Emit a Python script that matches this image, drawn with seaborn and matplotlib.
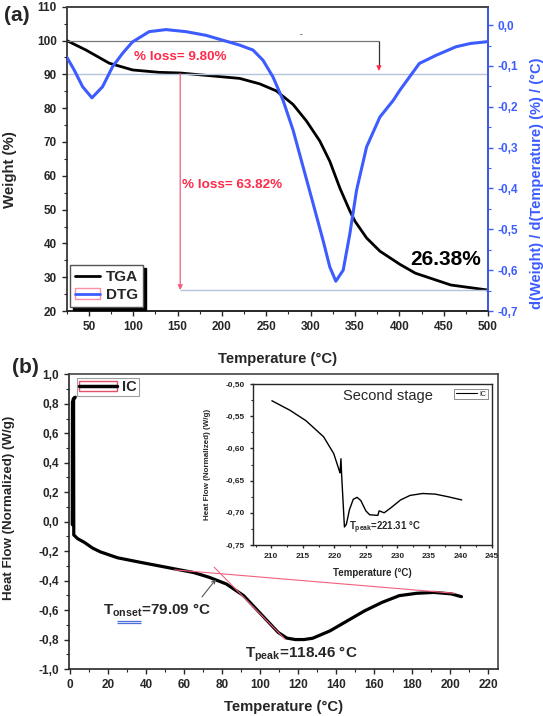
import matplotlib
matplotlib.use("Agg")
import matplotlib.pyplot as plt
import seaborn as sns
from matplotlib.lines import Line2D
from matplotlib.patches import Rectangle
from matplotlib.ticker import MultipleLocator, FuncFormatter

# ---- panel (a): TGA / DTG ----
tga_temp = [25, 46.7, 73, 99.3, 129, 153, 220, 242.5, 261.4, 280.2, 295.3, 310.3, 321.6,
            332.9, 344.2, 349.9, 363.1, 378.1, 400.7, 418, 458, 500]
tga_weight = [100, 97.2, 93.3, 91.3, 90.6, 90.4, 88.8, 87.2, 85.1, 81.1, 76.2, 70.3, 64.3,
              56.4, 49.6, 46.6, 41.6, 37.7, 33.8, 31.2, 27.7, 26.2]

dtg_temp = [25, 33.5, 43, 53.5, 65.4, 76.7, 88, 99.3, 118, 137, 159.5, 182, 220, 235,
            246.3, 257.6, 268.9, 280.2, 291.5, 302.8, 314, 321.6, 328.4, 336.7, 344.2,
            351.8, 363.1, 378.1, 393.2, 400.7, 422.5, 441.3, 463.9, 480, 497.3, 500]
dtg_value = [-0.078, -0.110, -0.151, -0.178, -0.151, -0.102, -0.069, -0.041, -0.016, -0.011,
             -0.016, -0.025, -0.049, -0.061, -0.086, -0.127, -0.184, -0.257, -0.347, -0.437,
             -0.527, -0.592, -0.627, -0.600, -0.511, -0.404, -0.298, -0.225, -0.184, -0.159,
             -0.094, -0.074, -0.053, -0.045, -0.041, -0.040]

start_weight = 100
step_weight = 90.2
final_weight = 26.2
step_x = 377
loss_x = 153

# ---- panel (b): DSC ----
hf_temp = [1.2, 1.3, 1.8, 2.8, 1.9, 2.0, 4.0, 7.5, 12, 16, 25, 36.7, 54.9, 65, 73.1, 82.2,
           91.3, 100.4, 109.5, 114, 118.5, 123, 127.6, 136.7, 145.8, 154.9, 164, 173.1,
           182.2, 191.3, 200.4, 205.8]
hf_value = [-0.02, 0.81, 0.835, 0.845, 0.83, -0.09, -0.115, -0.14, -0.18, -0.205, -0.245,
            -0.275, -0.32, -0.345, -0.377, -0.423, -0.502, -0.627, -0.752, -0.79, -0.80,
            -0.80, -0.791, -0.741, -0.673, -0.605, -0.548, -0.502, -0.486, -0.48, -0.49,
            -0.509]

baseline_x = [54.9, 202.2]
baseline_y = [-0.327, -0.486]
tangent_x = [75.8, 113.1]
tangent_y = [-0.309, -0.798]

# ---- inset: second stage ----
ins_temp = [210.1, 213, 215.5, 218.3, 219.9, 220.8, 220.9, 221.05, 221.15, 221.6, 221.9,
            222.4, 223.0, 223.6, 224.2, 225.0, 225.6, 226.9, 227.1, 227.4, 227.9, 229,
            230.5, 232, 234, 236, 238, 240.2]
ins_value = [-0.526, -0.541, -0.557, -0.582, -0.608, -0.635, -0.638, -0.616, -0.64, -0.722,
             -0.718, -0.695, -0.679, -0.676, -0.681, -0.697, -0.703, -0.704, -0.697, -0.698,
             -0.700, -0.692, -0.68, -0.673, -0.670, -0.671, -0.675, -0.680]

BLUE = "#3d5cff"
RED = "#ff2a4a"
PINK = "#f2607e"

sns.set_style("ticks")
plt.rcParams["font.family"] = ["Liberation Sans", "DejaVu Sans"]
plt.rcParams["font.weight"] = "bold"
plt.rcParams["axes.labelweight"] = "bold"
plt.rcParams["axes.unicode_minus"] = False
plt.rcParams["mathtext.fontset"] = "custom"
plt.rcParams["mathtext.bf"] = "Liberation Sans:bold"
plt.rcParams["mathtext.rm"] = "Liberation Sans:bold"
plt.rcParams["mathtext.default"] = "bf"


def comma(dec):
    return FuncFormatter(lambda v, p: f"{round(v, dec) + 0.0:.{dec}f}".replace(".", ","))


def style_axis(ax, size=8.5, major=3.5, minor=2):
    ax.tick_params(which="major", direction="out", length=major, width=1, labelsize=size)
    ax.tick_params(which="minor", direction="out", length=minor, width=0.8)
    for s in ax.spines.values():
        s.set_linewidth(1.2)


fig = plt.figure(figsize=(5.43, 7.16), dpi=100)

# ================= (a) =================
ax1 = fig.add_axes([0.1228, 0.5656, 0.776, 0.425])
ax2 = ax1.twinx()

sns.lineplot(x=tga_temp, y=tga_weight, ax=ax1, color="black", lw=2, sort=False)
sns.lineplot(x=dtg_temp, y=dtg_value, ax=ax2, color=BLUE, lw=2.2, sort=False)

ax1.set_xlim(25, 500)
ax1.set_ylim(20, 110)
ax2.set_ylim(-0.70, 0.045)
ax1.xaxis.set_major_locator(MultipleLocator(50))
ax1.xaxis.set_minor_locator(MultipleLocator(25))
ax1.yaxis.set_major_locator(MultipleLocator(10))
ax1.yaxis.set_minor_locator(MultipleLocator(5))
ax2.yaxis.set_major_locator(MultipleLocator(0.1))
ax2.yaxis.set_minor_locator(MultipleLocator(0.05))
ax2.yaxis.set_major_formatter(comma(1))
style_axis(ax1)
style_axis(ax2)
ax1.spines["top"].set_color("#444444")
ax2.spines["top"].set_color("#444444")
ax2.spines["right"].set_color(BLUE)
ax2.spines["left"].set_visible(False)
ax2.tick_params(axis="y", which="both", colors=BLUE, labelcolor=BLUE)

ax1.set_xlabel("Temperature (°C)", fontsize=10.7)
ax1.set_ylabel("Weight (%)", fontsize=10.8)
ax2.set_ylabel("d(Weight) / d(Temperature) (%) / (°C)", fontsize=10.5, color=BLUE)
ax1.xaxis.set_label_coords(0.5, -0.135)
ax1.yaxis.set_label_coords(-0.118, 0.464)
ax2.yaxis.set_label_coords(1.1, 0.42)

# step annotations
ax1.hlines(start_weight, 25, step_x, color="#777777", lw=0.9)
ax1.hlines(step_weight, 25, 500, color="#b4c2da", lw=1.0)
ax1.hlines(final_weight, loss_x, 500, color="#b4c2da", lw=1.0)
ax1.vlines(step_x, step_weight + 2, start_weight, color="#333333", lw=0.9)
ax1.annotate("", xy=(step_x, step_weight), xytext=(step_x, step_weight + 2.5),
             arrowprops=dict(arrowstyle="-|>", color=RED, lw=0.8, mutation_scale=7))
ax1.annotate("", xy=(loss_x, final_weight), xytext=(loss_x, step_weight),
             arrowprops=dict(arrowstyle="-|>", color=PINK, lw=0.9, mutation_scale=7,
                             shrinkA=0, shrinkB=0))
ax1.text(289, 100.6, "-", fontsize=6, color="#444444", ha="center", va="bottom")
ax1.text(101, 95.2, "% loss= 9.80%", color=RED, fontsize=9.7, va="center")
ax1.text(155, 57.2, "% loss= 63.82%", color=RED, fontsize=9.7, va="center")
ax1.text(412, 35.1, "26.38%", color="black", fontsize=15, va="center")

dtg_handle = (Rectangle((0, 0), 1, 1, facecolor="none", edgecolor="#ff8fa8", lw=1),
              Line2D([], [], color=BLUE, lw=2))
leg = ax2.legend([Line2D([], [], color="black", lw=2), dtg_handle], ["TGA", "DTG"],
                 loc="lower left", bbox_to_anchor=(0.008, 0.012), borderaxespad=0,
                 frameon=True, fancybox=False, shadow={"color": "black", "alpha": 1},
                 edgecolor="#555555", prop={"weight": "bold", "size": 11},
                 handlelength=1.6, handletextpad=0.4, labelspacing=0.25, borderpad=0.35)
leg.get_frame().set_linewidth(1.0)

fig.text(0.031, 0.979, "(a)", fontsize=15, ha="center", va="center")

# ================= (b) =================
ax3 = fig.add_axes([0.1271, 0.0656, 0.790, 0.4116])
sns.lineplot(x=hf_temp, y=hf_value, ax=ax3, color="black", lw=2.3, sort=False)
ax3.plot(baseline_x, baseline_y, color=PINK, lw=0.8)
ax3.plot(tangent_x, tangent_y, color=PINK, lw=0.8)
ax3.set_xlim(-0.5, 225)
ax3.set_ylim(-1.0, 1.0)
ax3.xaxis.set_major_locator(MultipleLocator(20))
ax3.xaxis.set_minor_locator(MultipleLocator(10))
ax3.yaxis.set_major_locator(MultipleLocator(0.2))
ax3.yaxis.set_minor_locator(MultipleLocator(0.1))
ax3.yaxis.set_major_formatter(comma(1))
style_axis(ax3)
ax3.spines["top"].set_color("#444444")
ax3.spines["right"].set_color("#444444")
ax3.set_xlabel("Temperature (°C)", fontsize=10.7)
ax3.set_ylabel("Heat Flow (Normalized) (W/g)", fontsize=9.6)
ax3.xaxis.set_label_coords(0.5, -0.105)
ax3.yaxis.set_label_coords(-0.125, 0.546)

ax3.annotate("", xy=(77.6, -0.377), xytext=(68.5, -0.525),
             arrowprops=dict(arrowstyle="->", color="#555555", lw=0.8, mutation_scale=6))
ax3.text(17.5, -0.60, r"T$_{onset}$=79.09 °C", fontsize=11, va="center")
ax3.hlines([-0.675, -0.689], 24.5, 37.5, color="#4a6fd8", lw=0.9)
ax3.text(92, -0.90, r"T$_{peak}$=118.46 °C", fontsize=11, va="center")

ic_handle = (Rectangle((0, 0), 1, 1, facecolor="none", edgecolor="#e2506a", lw=1),
             Line2D([], [], color="black", lw=2.5))
leg2 = ax3.legend([ic_handle], ["IC"], loc="upper left", bbox_to_anchor=(0.019, 0.988),
                  borderaxespad=0, frameon=True, fancybox=False, edgecolor="#888888",
                  prop={"weight": "bold", "size": 10.5}, handlelength=2.6,
                  handletextpad=0.3, borderpad=0.15)
leg2.get_frame().set_linewidth(0.8)

fig.text(0.046, 0.487, "(b)", fontsize=15, ha="center", va="center")

# ================= inset =================
ax4 = fig.add_axes([0.4659, 0.2388, 0.4402, 0.2249])
sns.lineplot(x=ins_temp, y=ins_value, ax=ax4, color="black", lw=1.0, sort=False)
ax4.set_xlim(207.1, 245)
ax4.set_ylim(-0.75, -0.50)
ax4.xaxis.set_major_locator(MultipleLocator(5))
ax4.xaxis.set_minor_locator(MultipleLocator(2.5))
ax4.yaxis.set_major_locator(MultipleLocator(0.05))
ax4.yaxis.set_minor_locator(MultipleLocator(0.025))
ax4.yaxis.set_major_formatter(comma(2))
style_axis(ax4, size=6, major=2.5, minor=1.5)
for s in ax4.spines.values():
    s.set_linewidth(1.0)
ax4.set_xlabel("Temperature (°C)", fontsize=7)
ax4.set_ylabel("Heat Flow (Normalized) (W/g)", fontsize=5.8)
ax4.xaxis.set_label_coords(0.5, -0.14)
ax4.yaxis.set_label_coords(-0.177, 0.5)
ax4.text(0.565, 0.925, "Second stage", transform=ax4.transAxes, fontsize=10.5,
         fontweight="normal", ha="center", va="center")
ax4.text(222.4, -0.724, r"T$_{peak}$=221.31 °C", fontsize=6.9, va="center")
leg3 = ax4.legend([Line2D([], [], color="black", lw=0.8)], ["IC"], loc="upper right",
                  bbox_to_anchor=(0.985, 0.97), borderaxespad=0, frameon=True,
                  fancybox=False, edgecolor="#555555", prop={"size": 5, "weight": "normal"},
                  handlelength=3.0, handletextpad=0.4, borderpad=0.25)
leg3.get_frame().set_linewidth(0.6)

fig.savefig("out.png", dpi=100)
